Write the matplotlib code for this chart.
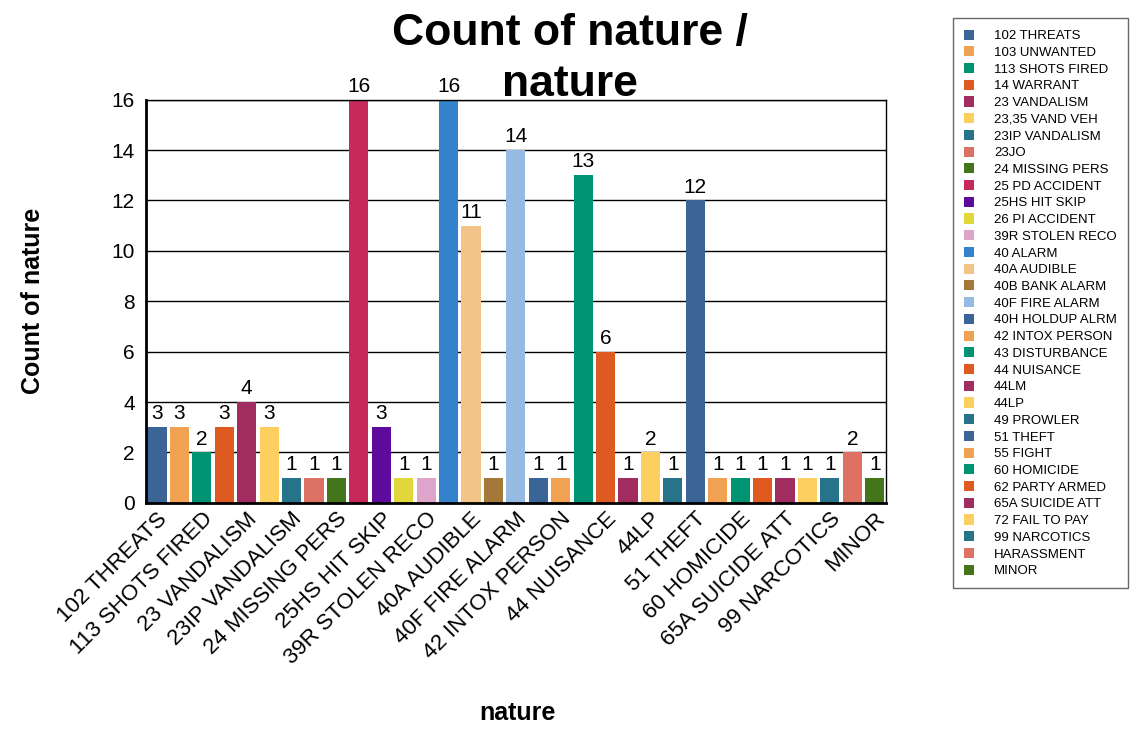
import numpy as np
import matplotlib.pyplot as plt
from matplotlib.patches import Patch

plt.rcParams['font.family'] = ['Liberation Sans', 'DejaVu Sans']

categories = ['102 THREATS', '103 UNWANTED', '113 SHOTS FIRED', '14 WARRANT', '23 VANDALISM',
              '23,35 VAND VEH', '23IP VANDALISM', '23JO', '24 MISSING PERS', '25 PD ACCIDENT',
              '25HS HIT SKIP', '26 PI ACCIDENT', '39R STOLEN RECO', '40 ALARM', '40A AUDIBLE',
              '40B BANK ALARM', '40F FIRE ALARM', '40H HOLDUP ALRM', '42 INTOX PERSON',
              '43 DISTURBANCE', '44 NUISANCE', '44LM', '44LP', '49 PROWLER', '51 THEFT',
              '55 FIGHT', '60 HOMICIDE', '62 PARTY ARMED', '65A SUICIDE ATT', '72 FAIL TO PAY',
              '99 NARCOTICS', 'HARASSMENT', 'MINOR']
counts = [3, 3, 2, 3, 4, 3, 1, 1, 1, 16, 3, 1, 1, 16, 11, 1, 14, 1, 1, 13, 6, 1, 2, 1, 12,
          1, 1, 1, 1, 1, 1, 2, 1]

blue, orange, green, red = '#3a6596', '#f0a252', '#009472', '#de5a20'
maroon, yellow, teal, salmon = '#a12c60', '#fdcf60', '#27748a', '#dd7164'
olive = '#45751a'
colors = [blue, orange, green, red, maroon, yellow, teal, salmon, olive,
          '#c9295a', '#5e0a9c', '#e2d73a', '#dca5c9', '#3481cc', '#f2c488', '#a37838', '#96bbe3',
          blue, orange, green, red, maroon, yellow, teal,
          blue, orange, green, red, maroon, yellow, teal, salmon, olive]

fig = plt.figure(figsize=(11.3, 7.33), dpi=100)
ax = fig.add_axes([0.129, 0.314, 0.655, 0.550])

x = np.arange(len(categories))
ax.bar(x, counts, width=0.85, color=colors, zorder=2)
for xi, c in zip(x, counts):
    ax.text(xi, c + 0.15, str(c), ha='center', va='bottom', fontsize=15, zorder=3)

ax.set_xlim(-0.5, len(categories) - 0.5)
ax.set_ylim(0, 16)
ax.set_yticks(np.arange(0, 17, 2))
ax.tick_params(axis='y', length=0, labelsize=15, pad=8)
ax.set_xticks(x[::2])
ax.set_xticklabels(categories[::2], rotation=45, ha='right', rotation_mode='anchor', fontsize=16)
ax.tick_params(axis='x', length=0, pad=4)
ax.yaxis.grid(True, color='black', linewidth=1, zorder=0)
ax.set_axisbelow(True)
for s in ['left', 'bottom']:
    ax.spines[s].set_linewidth(2)
for s in ['top', 'right']:
    ax.spines[s].set_linewidth(1)

ax.set_ylabel('Count of nature', fontsize=18, fontweight='bold', labelpad=48)
fig.text(0.458, 0.027, 'nature', ha='center', va='center', fontsize=18, fontweight='bold')
fig.text(0.504, 0.919, 'Count of nature /\nnature', ha='center', va='center',
         fontsize=32, fontweight='bold', linespacing=1.32)

handles = [Patch(facecolor=c, label=l) for c, l in zip(colors, categories)]
leg = fig.legend(handles=handles, loc='upper left', bbox_to_anchor=(0.843, 0.975),
                 fontsize=9.5, frameon=True, fancybox=False, edgecolor='#444444',
                 handlelength=0.8, handleheight=0.8, handletextpad=1.5,
                 labelspacing=0.31, borderpad=0.85, borderaxespad=0)
leg.get_frame().set_linewidth(1)

fig.savefig('out.png', dpi=100)
